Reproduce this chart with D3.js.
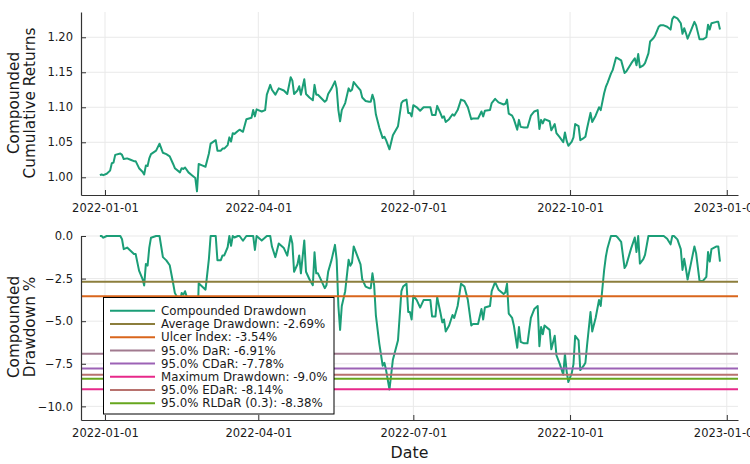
<!DOCTYPE html>
<html>
<head>
<meta charset="utf-8">
<script src="https://cdn.jsdelivr.net/npm/d3@7"></script>
<style>
  body { margin: 0; background: #fff; }
  text { font-family: "DejaVu Sans", sans-serif; }
</style>
</head>
<body>
<svg id="chart" width="750" height="464"></svg>
<script>
// days since 2022-01-01 for each trading-day vertex
const dayOffsets = [-3,-2,-1,1,3,4,5,6,9,10,11,13,15,17,18,20,22,23,24,25,26,27,30,32,34,36,38,40,41,44,45,46,47,49,51,53,54,55,57,59,61,62,65,66,68,69,70,72,73,74,75,76,78,79,81,83,86,87,88,89,90,92,94,95,97,98,100,102,105,107,109,110,111,113,114,115,117,118,120,122,123,124,125,127,129,130,131,133,135,136,137,138,139,141,143,144,145,146,148,150,151,153,155,156,157,158,159,161,163,164,165,167,169,172,174,175,177,178,179,180,181,183,185,187,190,191,192,194,195,197,198,199,200,202,204,205,207,209,211,213,215,216,219,221,222,223,226,227,229,231,234,235,236,237,239,240,242,243,244,246,248,250,252,254,255,256,257,258,261,262,264,265,267,269,270,271,272,274,275,276,278,279,281,282,283,285,286,288,290,291,293,294,295,297,298,300,301,303,305,306,308,309,311,312,313,314,316,317,319,320,322,323,325,326,328,330,332,333,334,336,338,339,340,341,342,344,346,347,349,351,353,354,355,356,359,360,361];

const cumulativeReturns = [1.003,1.004,1.003,1.005,1.0095,1.020,1.021,1.032,1.034,1.032,1.026,1.027,1.025,1.023,1.023,1.013,1.008,1.004,1.017,1.016,1.027,1.033,1.038,1.048,1.035,1.033,1.030,1.019,1.013,1.007,1.013,1.012,1.014,1.007,1.003,0.999,0.980,1.019,1.017,1.015,1.034,1.048,1.053,1.038,1.038,1.041,1.041,1.046,1.057,1.051,1.063,1.062,1.066,1.068,1.065,1.083,1.085,1.096,1.087,1.097,1.096,1.094,1.096,1.118,1.132,1.125,1.118,1.127,1.124,1.119,1.143,1.138,1.119,1.124,1.130,1.118,1.140,1.119,1.114,1.110,1.132,1.118,1.118,1.113,1.108,1.110,1.119,1.127,1.137,1.127,1.096,1.080,1.096,1.106,1.127,1.123,1.125,1.136,1.130,1.124,1.114,1.109,1.108,1.108,1.118,1.110,1.090,1.071,1.056,1.058,1.053,1.040,1.060,1.073,1.106,1.109,1.111,1.092,1.092,1.087,1.103,1.100,1.095,1.100,1.100,1.100,1.089,1.089,1.102,1.091,1.085,1.087,1.079,1.083,1.090,1.088,1.096,1.111,1.109,1.100,1.083,1.084,1.084,1.094,1.087,1.095,1.096,1.106,1.112,1.107,1.104,1.105,1.111,1.091,1.088,1.083,1.068,1.082,1.072,1.071,1.071,1.088,1.094,1.096,1.069,1.082,1.077,1.083,1.080,1.067,1.076,1.063,1.057,1.050,1.064,1.052,1.045,1.051,1.057,1.076,1.073,1.053,1.056,1.058,1.070,1.092,1.079,1.088,1.100,1.096,1.120,1.129,1.135,1.148,1.153,1.171,1.170,1.167,1.149,1.151,1.159,1.163,1.170,1.160,1.176,1.157,1.160,1.163,1.177,1.194,1.199,1.203,1.215,1.217,1.217,1.215,1.211,1.226,1.2295,1.227,1.220,1.205,1.213,1.206,1.198,1.210,1.222,1.217,1.197,1.197,1.200,1.218,1.211,1.220,1.222,1.222,1.211];

const drawdownPct = [0,0,-0.10,0,0,0,0,0,0,-0.19,-0.77,-0.68,-0.87,-1.06,-1.06,-2.03,-2.51,-2.90,-1.64,-1.74,-0.68,-0.10,0,0,-1.24,-1.43,-1.72,-2.77,-3.34,-3.91,-3.34,-3.44,-3.24,-3.91,-4.29,-4.68,-6.49,-2.77,-2.96,-3.15,-1.34,0,0,-1.42,-1.42,-1.14,-1.14,-0.66,0,-0.57,0,-0.09,0,0,-0.28,0,0,0,-0.82,0,-0.09,-0.27,-0.09,0,0,-0.62,-1.24,-0.44,-0.71,-1.15,0,-0.44,-2.10,-1.66,-1.14,-2.19,-0.26,-2.10,-2.54,-2.89,-0.96,-2.19,-2.19,-2.62,-3.06,-2.89,-2.10,-1.40,-0.52,-1.40,-4.11,-5.51,-4.11,-3.24,-1.40,-1.75,-1.57,-0.61,-1.14,-1.66,-2.54,-2.97,-3.06,-3.06,-2.19,-2.89,-4.64,-6.30,-7.61,-7.44,-7.87,-9.01,-7.26,-6.12,-3.24,-2.97,-2.80,-4.46,-4.46,-4.90,-3.50,-3.76,-4.20,-3.76,-3.76,-3.76,-4.72,-4.72,-3.59,-4.55,-5.07,-4.90,-5.60,-5.25,-4.64,-4.81,-4.11,-2.80,-2.97,-3.76,-5.25,-5.16,-5.16,-4.29,-4.90,-4.20,-4.11,-3.24,-2.71,-3.15,-3.41,-3.32,-2.80,-4.55,-4.81,-5.25,-6.56,-5.34,-6.21,-6.30,-6.30,-4.81,-4.29,-4.11,-6.47,-5.34,-5.77,-5.25,-5.51,-6.65,-5.86,-7.00,-7.52,-8.14,-6.91,-7.96,-8.57,-8.05,-7.52,-5.86,-6.12,-7.87,-7.61,-7.44,-6.39,-4.46,-5.60,-4.81,-3.76,-4.11,-2.01,-1.22,-0.70,0,0,0,-0.09,-0.34,-1.88,-1.71,-1.02,-0.68,-0.09,-0.94,0,-1.62,-1.36,-1.11,0,0,0,0,0,0,0,-0.16,-0.49,0,0,-0.20,-0.77,-1.99,-1.34,-1.91,-2.56,-1.59,-0.61,-1.02,-2.64,-2.64,-2.40,-0.94,-1.50,-0.77,-0.61,-0.61,-1.50];

const riskLabels = ["Average Drawdown", "Ulcer Index", "95.0% DaR", "95.0% CDaR",
                    "Maximum Drawdown", "95.0% EDaR", "95.0% RLDaR (0.3)"];
const riskValues = [-2.69, -3.54, -6.91, -7.78, -9.0, -8.14, -8.38];

const xTickDates = ["2022-01-01", "2022-04-01", "2022-07-01", "2022-10-01", "2023-01-01"];
const returnTicks = [1.00, 1.05, 1.10, 1.15, 1.20];
const drawdownTicks = [0, -2.5, -5, -7.5, -10];

// styling
const curveColor = "#1b9e77";
const riskColors = ["#8c7e3c", "#d9661c", "#a17a8f", "#9c62b5", "#e7298a", "#b8726e", "#66a61e"];
const gridColor = "#e9e9e9";
const axisColor = "#333";

const svg = d3.select("#chart");
svg.append("rect").attr("width", 750).attr("height", 464).attr("fill", "#fff");

const parseDay = d3.utcParse("%Y-%m-%d");
const dayMs = 864e5;
const base = Date.UTC(2022, 0, 1);
const dates = dayOffsets.map(d => new Date(base + d * dayMs));

const left = 81, right = 738;
const x = d3.scaleUtc()
    .domain([new Date(Date.UTC(2021, 11, 17, 22)), new Date(Date.UTC(2023, 0, 7, 14))])
    .range([left, right]);

const yTop = d3.scaleLinear().domain([0.9747, 1.2361]).range([195, 12]);
const yBot = d3.scaleLinear().domain([-10.8, 0]).range([420, 236]);

function drawGrid(y, ticks) {
    const g = svg.append("g");
    const [y0, y1] = y.range();
    g.selectAll(".hg").data(ticks).join("line")
        .attr("x1", left).attr("x2", right)
        .attr("y1", d => y(d)).attr("y2", d => y(d))
        .attr("stroke", gridColor).attr("stroke-width", 1);
    g.selectAll(".vg").data(xTickDates).join("line")
        .attr("x1", d => x(parseDay(d))).attr("x2", d => x(parseDay(d)))
        .attr("y1", y0).attr("y2", y1)
        .attr("stroke", gridColor).attr("stroke-width", 1);
}

function drawAxes(y, ticks, fmt) {
    const [y0] = y.range();
    const ax = svg.append("g").attr("transform", `translate(0,${y0})`)
        .call(d3.axisBottom(x).tickValues(xTickDates.map(parseDay))
            .tickFormat(d3.utcFormat("%Y-%m-%d")).tickSize(-5).tickSizeOuter(0).tickPadding(8.5));
    const ay = svg.append("g").attr("transform", `translate(${left},0)`)
        .call(d3.axisLeft(y).tickValues(ticks).tickFormat(fmt)
            .tickSize(-5).tickSizeOuter(0).tickPadding(8));
    [ax, ay].forEach(a => {
        a.select(".domain").attr("stroke", axisColor).attr("stroke-width", 1.2);
        a.selectAll(".tick line").attr("stroke", axisColor);
        a.selectAll("text").attr("font-size", "11.5px").attr("fill", "#1a1a1a")
            .style("font-family", "DejaVu Sans, sans-serif");
    });
}

function yTitle(lines, cy) {
    const xs = [14, 30];
    lines.forEach((t, i) => {
        svg.append("text")
            .attr("transform", `translate(${xs[i]},${cy}) rotate(-90)`)
            .attr("text-anchor", "middle").attr("dy", "0.35em")
            .attr("font-size", "15.3px").attr("fill", "#1a1a1a")
            .text(t);
    });
}

// top panel: cumulative returns
drawGrid(yTop, returnTicks);
svg.append("path")
    .datum(cumulativeReturns)
    .attr("fill", "none").attr("stroke", curveColor).attr("stroke-width", 2)
    .attr("stroke-linejoin", "round")
    .attr("d", d3.line().x((d, i) => x(dates[i])).y(d => yTop(d)));
drawAxes(yTop, returnTicks, d3.format(".2f"));
yTitle(["Compounded", "Cumulative Returns"], 103);

// bottom panel: drawdown
drawGrid(yBot, drawdownTicks);
svg.append("path")
    .datum(drawdownPct)
    .attr("fill", "none").attr("stroke", curveColor).attr("stroke-width", 2)
    .attr("stroke-linejoin", "round")
    .attr("d", d3.line().x((d, i) => x(dates[i])).y(d => yBot(d)));
svg.append("g").selectAll("line").data(riskValues).join("line")
    .attr("x1", left).attr("x2", right)
    .attr("y1", d => yBot(d)).attr("y2", d => yBot(d))
    .attr("stroke", (d, i) => riskColors[i]).attr("stroke-width", 2);
drawAxes(yBot, drawdownTicks, d3.format(".1f"));
yTitle(["Compounded", "Drawdown %"], 327);

svg.append("text")
    .attr("x", (left + right) / 2).attr("y", 458)
    .attr("text-anchor", "middle").attr("font-size", "15.8px").attr("fill", "#1a1a1a")
    .text("Date");

// legend
const fmtPct = v => (Number.isInteger(v) ? v.toFixed(1) : String(v)) + "%";
const legendItems = [{label: "Compounded Drawdown", color: curveColor}]
    .concat(riskLabels.map((l, i) => ({label: `${l}: ${fmtPct(riskValues[i])}`, color: riskColors[i]})));

const lg = svg.append("g");
lg.append("rect")
    .attr("x", 103.5).attr("y", 297.5).attr("width", 230.5).attr("height", 116.5)
    .attr("fill", "#fff").attr("stroke", "#000").attr("stroke-width", 1);
const rows = lg.selectAll("g.row").data(legendItems).join("g")
    .attr("transform", (d, i) => `translate(0,${310.8 + i * 13.2})`);
rows.append("line")
    .attr("x1", 110).attr("x2", 155)
    .attr("stroke", d => d.color).attr("stroke-width", 2);
rows.append("text")
    .attr("x", 161).attr("dy", "0.36em")
    .attr("font-size", "11.8px").attr("fill", "#1a1a1a")
    .text(d => d.label);
</script>
</body>
</html>
